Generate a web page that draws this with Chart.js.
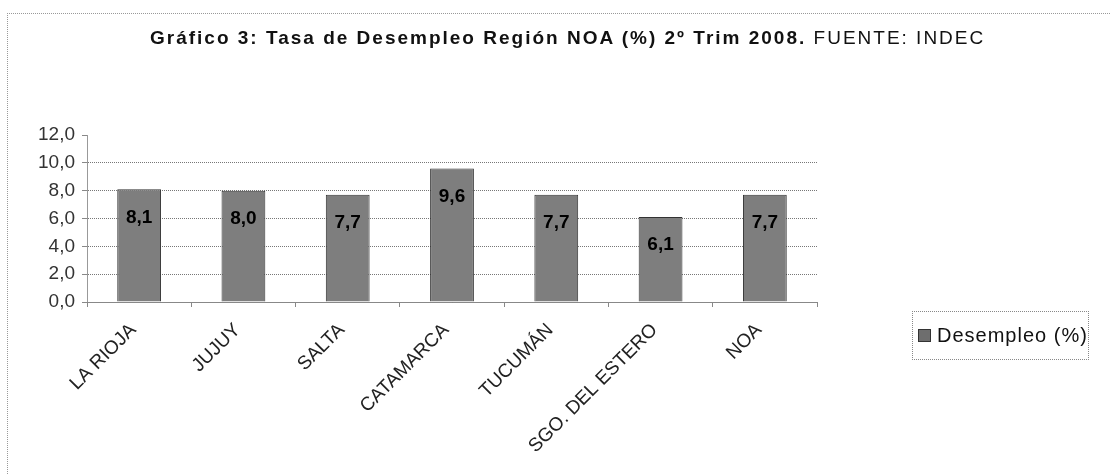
<!DOCTYPE html>
<html>
<head>
<meta charset="utf-8">
<script src="https://cdn.jsdelivr.net/npm/chart.js@4"></script>
<style>
  html, body { margin: 0; padding: 0; background: #fff; }
  #wrap { position: relative; width: 1110px; height: 474px; overflow: hidden; font-family: Arial, "Liberation Sans", sans-serif; }
  #frame { position: absolute; left: 7px; top: 13px; width: 1200px; height: 600px; border-top: 1px dotted #999; border-left: 1px dotted #999; }
  #title { position: absolute; left: 150px; top: 27px; font-size: 19px; letter-spacing: 2px; color: #111; white-space: nowrap; }
  #title b { font-weight: bold; }
  #legend { position: absolute; left: 912px; top: 311px; width: 175px; height: 47px; border: 1px dotted #888; display: flex; align-items: center; font-size: 20px; letter-spacing: 1px; color: #111; }
  #legend i { display: inline-block; width: 11px; height: 11px; background: #6e6e6e; border: 1px solid #333; margin: 0 6px 0 5px; }
  canvas { position: absolute; left: 0; top: 0; }
</style>
</head>
<body>
<div id="wrap">
  <div id="frame"></div>
  <canvas id="c" width="1110" height="474"></canvas>
  <div id="title"><b>Gráfico 3: Tasa de Desempleo Región NOA (%) 2º Trim 2008.</b> FUENTE: INDEC</div>
  <div id="legend"><i></i>Desempleo (%)</div>
</div>
<script>
const regiones = ['LA RIOJA', 'JUJUY', 'SALTA', 'CATAMARCA', 'TUCUMÁN', 'SGO. DEL ESTERO', 'NOA'];
const desempleo = [8.1, 8.0, 7.7, 9.6, 7.7, 6.1, 7.7];
const serieNombre = 'Desempleo (%)';
const yMin = 0, yMax = 12, yPaso = 2;

const FONT = 'Arial, "Liberation Sans", sans-serif';
const coma = (v) => v.toFixed(1).replace('.', ',');

// etiquetas de valor dentro de cada barra
const valueLabels = {
  id: 'valueLabels',
  afterDatasetsDraw(chart) {
    const { ctx } = chart;
    const meta = chart.getDatasetMeta(0);
    ctx.save();
    ctx.font = 'bold 19px ' + FONT;
    ctx.fillStyle = '#000';
    ctx.textAlign = 'center';
    ctx.textBaseline = 'middle';
    meta.data.forEach((bar, i) => {
      ctx.fillText(coma(desempleo[i]), bar.x, bar.y + 28);
    });
    ctx.restore();
  },
};

new Chart(document.getElementById('c'), {
  type: 'bar',
  data: {
    labels: regiones,
    datasets: [{
      label: serieNombre,
      data: desempleo,
      backgroundColor: '#7e7e7e',
      borderColor: '#333',
      borderWidth: 1,
      barPercentage: 0.84,
      categoryPercentage: 0.5,
    }],
  },
  options: {
    responsive: false,
    animation: false,
    layout: { padding: { left: 0, right: 293, top: 135, bottom: 0 } },
    plugins: {
      legend: { display: false },
      title: { display: false },
      tooltip: { enabled: false },
    },
    scales: {
      y: {
        min: yMin,
        max: yMax,
        ticks: {
          stepSize: yPaso,
          padding: 7,
          color: '#333',
          font: { family: FONT, size: 19 },
          callback: (v) => coma(v),
        },
        grid: {
          color: (c) => (c.tick && c.tick.value === yMax ? 'rgba(0,0,0,0)' : '#777'),
          tickColor: '#888',
          tickLength: 5,
        },
        border: { color: '#999', dash: [1, 1] },
        afterFit: (s) => { s.width = 87; },
      },
      x: {
        ticks: {
          maxRotation: 45,
          minRotation: 45,
          color: '#222',
          padding: 12,
          labelOffset: -6,
          font: { family: FONT, size: 19 },
        },
        grid: {
          drawOnChartArea: false,
          offset: true,
          tickLength: 5,
          color: '#888',
        },
        border: { color: '#888' },
        afterFit: (s) => { s.height = 474 - 302; },
      },
    },
  },
  plugins: [valueLabels],
});
</script>
</body>
</html>
